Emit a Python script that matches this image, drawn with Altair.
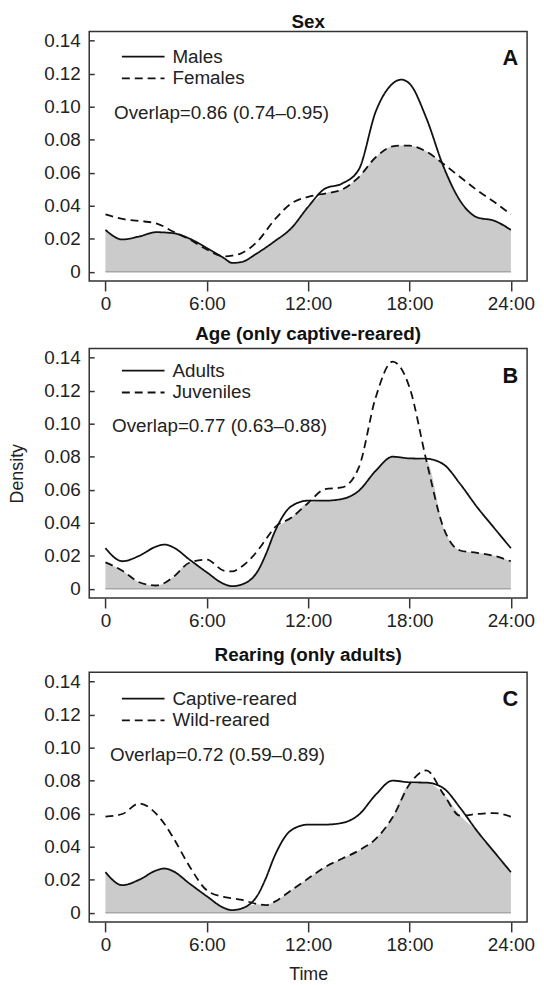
import altair as alt
import pandas as pd

FONT = "Liberation Sans"

# ---------------- data ----------------
x_ticks = [0, 6, 12, 18, 24]
x_tick_labels = ["0", "6:00", "12:00", "18:00", "24:00"]
y_ticks = [0, 0.02, 0.04, 0.06, 0.08, 0.10, 0.12, 0.14]
y_tick_labels = ["0", "0.02", "0.04", "0.06", "0.08", "0.10", "0.12", "0.14"]

titles = ["Sex", "Age (only captive-reared)", "Rearing (only adults)"]
letters = ["A", "B", "C"]
series_names = [["Males", "Females"], ["Adults", "Juveniles"], ["Captive-reared", "Wild-reared"]]
overlap_texts = ["Overlap=0.86 (0.74\u20130.95)", "Overlap=0.77 (0.63\u20130.88)", "Overlap=0.72 (0.59\u20130.89)"]

time_a = [0, 1, 2, 3, 4, 5, 6, 7, 7.5, 8, 9, 10, 11, 12, 13, 14, 15, 16, 17, 17.5, 18, 19, 20, 21, 22, 23, 24]
males = [0.0254, 0.0196, 0.0214, 0.0240, 0.0234, 0.0200, 0.0144, 0.0084, 0.0054, 0.0058, 0.0114, 0.0184,
         0.0264, 0.0394, 0.0504, 0.0534, 0.0620, 0.0970, 0.1140, 0.1164, 0.1140, 0.0930, 0.0640, 0.0430,
         0.0330, 0.0310, 0.0254]
females = [0.0348, 0.0320, 0.0308, 0.0294, 0.0244, 0.0195, 0.0135, 0.0094, 0.0098, 0.0110, 0.0184, 0.0314,
           0.0414, 0.0454, 0.0474, 0.0498, 0.0574, 0.0694, 0.0760, 0.0765, 0.0764, 0.0728, 0.0654, 0.0574,
           0.0494, 0.0424, 0.0348]

time_bc = [0, 1, 2, 3, 3.5, 4, 5, 6, 7, 7.5, 8, 9, 9.5, 10, 11, 12, 13, 14, 15, 16, 17, 18, 19, 20, 21, 22, 23, 24]
adults = [0.0246, 0.0167, 0.0200, 0.0256, 0.0268, 0.0252, 0.0175, 0.0100, 0.0030, 0.0016, 0.0024, 0.0105,
          0.0210, 0.0340, 0.0500, 0.0534, 0.0534, 0.0544, 0.0594, 0.0715, 0.0800, 0.0790, 0.0788, 0.0755,
          0.0635, 0.0495, 0.0370, 0.0246]
juveniles = [0.0160, 0.0110, 0.0040, 0.0020, 0.0035, 0.0070, 0.0160, 0.0177, 0.0110, 0.0105, 0.0130, 0.0230,
             0.0300, 0.0370, 0.0430, 0.0520, 0.0604, 0.0614, 0.0735, 0.1160, 0.1376, 0.1220, 0.0776, 0.0373,
             0.0232, 0.0218, 0.0200, 0.0167]
captive = adults
wild = [0.0582, 0.0598, 0.0662, 0.0600, 0.0537, 0.0457, 0.0277, 0.0136, 0.0096, 0.0088, 0.0080, 0.0052,
        0.0046, 0.0066, 0.0136, 0.0207, 0.0277, 0.0327, 0.0377, 0.0447, 0.0578, 0.0778, 0.0862, 0.0720,
        0.0588, 0.0598, 0.0604, 0.0582]

panel_data = [(time_a, males, females), (time_bc, adults, juveniles), (time_bc, captive, wild)]

# ---------------- layout / style (not data) ----------------
title_offsets = [-1, 4, 7]
legend_y = [16, 13, 17]
overlap_y = [82, 78, 83]
overlap_x = [25, 23, 21]
letter_y = [27, 28, 27]

W, H = 442, 252
LEG_PATH = "M-4,0H4"      # legend sample line, 8 units long
LEG_SIZE = 116            # sqrt(size)/2 * 8 = ~43 px long


def label_expr(vals, labels):
    expr = "''"
    for v, l in zip(reversed(vals), reversed(labels)):
        expr = f"abs(datum.value - {v}) < 1e-6 ? '{l}' : ({expr})"
    return expr


x_scale = alt.Scale(domain=[-0.96, 24.96], nice=False, zero=False)
y_scale = alt.Scale(domain=[-0.0056, 0.1456], nice=False, zero=False)


def make_panel(i):
    xs, s1, s2 = panel_data[i]
    n1, n2 = series_names[i]
    lines_df = pd.DataFrame({
        "t": list(xs) + list(xs),
        "d": list(s1) + list(s2),
        "series": [n1] * len(xs) + [n2] * len(xs),
    })
    min_df = pd.DataFrame({"t": xs, "d": [min(a, b) for a, b in zip(s1, s2)]})

    x_axis_kwargs = dict(
        values=x_ticks, tickCount=len(x_ticks) + 2, labelExpr=label_expr(x_ticks, x_tick_labels),
        grid=False, domain=False,
        tickSize=10, tickWidth=1.5, tickColor="#333", labelPadding=4, labelFontSize=19,
        labelFont=FONT, labelColor="#222", labelOverlap=False,
    )
    if i == 2:
        x_axis = alt.Axis(title="Time", titleFontSize=18, titleFont=FONT, titleFontWeight="normal",
                          titleColor="#222", titlePadding=11, **x_axis_kwargs)
    elif i == 1:
        x_axis = alt.Axis(title=" ", titleFontSize=3, titlePadding=1, titleOpacity=0, **x_axis_kwargs)
    else:
        x_axis = alt.Axis(title=None, **x_axis_kwargs)

    y_axis = alt.Axis(
        values=y_ticks, tickCount=len(y_ticks) + 2, labelExpr=label_expr(y_ticks, y_tick_labels),
        grid=False, domain=False,
        offset=-5, tickSize=5, tickWidth=1.5, tickColor="#333", labelPadding=9, labelFontSize=19,
        labelFont=FONT, labelColor="#222", labelOverlap=False,
        title="Density", titleFontSize=18,
        titleFont=FONT, titleFontWeight="normal", titleColor="#222", titlePadding=17,
        titleOpacity=1 if i == 1 else 0,
    )

    enc_x = alt.X("t:Q", scale=x_scale, axis=x_axis)
    enc_y = alt.Y("d:Q", scale=y_scale, axis=y_axis)

    area = alt.Chart(min_df).mark_area(color="#cbcbcb", interpolate="monotone").encode(
        x=enc_x, y=enc_y, y2=alt.datum(0)
    )
    baseline = alt.Chart(min_df).mark_line(color="#a6a6a6", strokeWidth=1.5).encode(
        x=enc_x, y=alt.datum(0)
    )
    lines = alt.Chart(lines_df).mark_line(interpolate="monotone", color="#111", strokeWidth=1.8).encode(
        x=enc_x,
        y=enc_y,
        detail="series:N",
        strokeDash=alt.StrokeDash(
            "series:N",
            scale=alt.Scale(domain=[n1, n2], range=[[1, 0], [8, 5]]),
            legend=alt.Legend(
                title=None, orient="none", legendX=45, legendY=legend_y[i], padding=0,
                symbolType=LEG_PATH, symbolSize=LEG_SIZE, symbolStrokeWidth=1.8,
                symbolStrokeColor="#111", labelFontSize=19, labelFont=FONT, labelColor="#222",
                labelOffset=20, rowPadding=2,
            ),
        ),
    )
    overlap = alt.Chart(pd.DataFrame({"txt": [overlap_texts[i]]})).mark_text(
        align="left", baseline="middle", fontSize=19, font=FONT, color="#222"
    ).encode(text="txt:N", x=alt.value(overlap_x[i]), y=alt.value(overlap_y[i]))
    letter = alt.Chart(pd.DataFrame({"txt": [letters[i]]})).mark_text(
        align="right", baseline="middle", fontSize=22, font=FONT, fontWeight="bold", color="#111"
    ).encode(text="txt:N", x=alt.value(W - 9), y=alt.value(letter_y[i]))

    return alt.layer(area, baseline, lines, overlap, letter).properties(
        width=W, height=H,
        title=alt.TitleParams(titles[i], fontSize=19, font=FONT, fontWeight="bold", color="#111",
                              offset=title_offsets[i], anchor="middle"),
    )


chart = alt.vconcat(*[make_panel(i) for i in range(3)], spacing=10).resolve_scale(
    strokeDash="independent", x="independent", y="independent"
).resolve_legend(strokeDash="independent").properties(
    padding={"left": 0, "top": 0, "right": 0, "bottom": 0}
).configure_view(stroke="#333", strokeWidth=1.5).configure_axis(labelOverlap=False)

chart.save("out.html", embed_options={"renderer": "svg", "actions": False})
